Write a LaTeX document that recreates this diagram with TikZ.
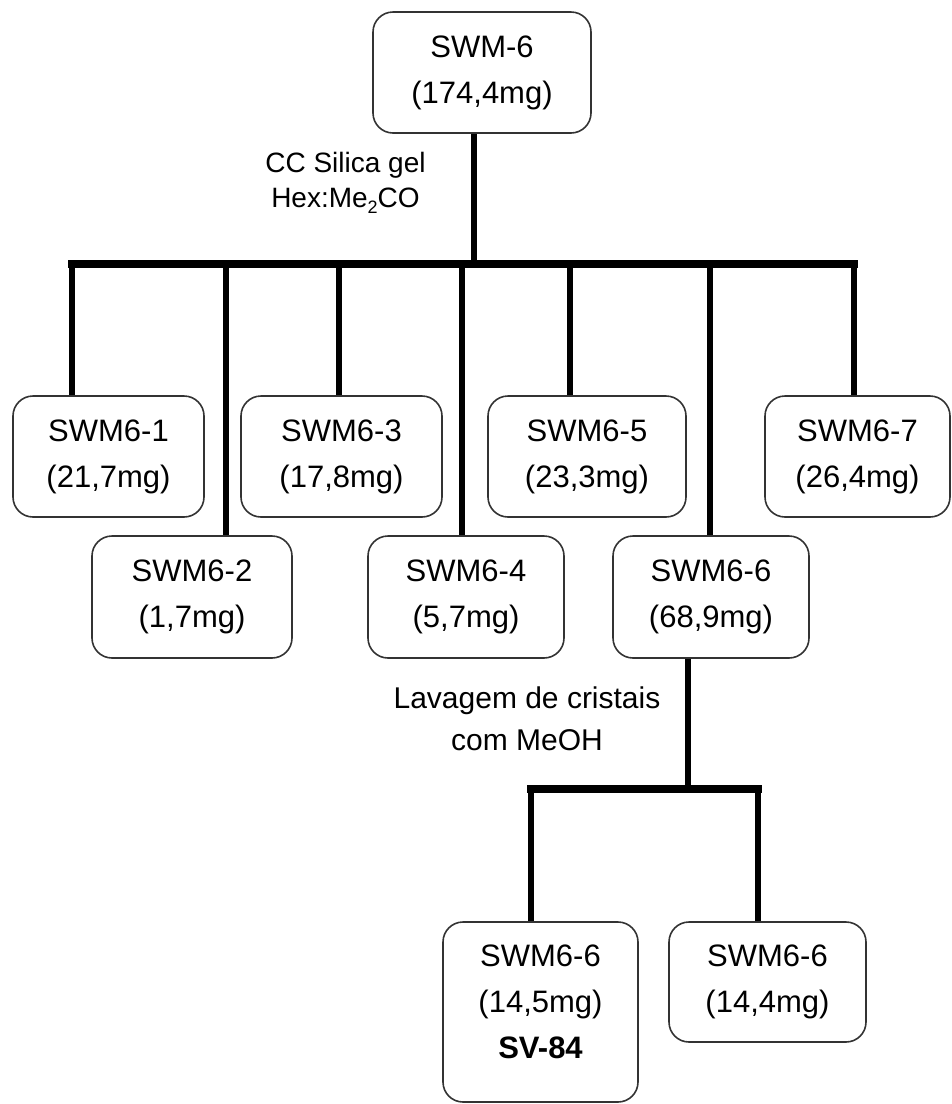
\documentclass[tikz,border=0pt]{standalone}
\usepackage{fontspec}
\setmainfont{Liberation Sans}
\begin{document}
\begin{tikzpicture}[x=1pt,y=-1pt,
  box/.style={draw=black!80, line width=1.6pt, rounded corners=20pt, fill=white,
    align=center, inner sep=0pt, font=\fontsize{31}{46}\selectfont},
  txt/.style={align=center, inner sep=0pt, font=\fontsize{31}{46}\selectfont},
  lbl/.style={align=center, inner sep=0pt},
  conn/.style={line width=6.5pt, black},
  barline/.style={line width=7.5pt, black, line cap=rect}]
\useasboundingbox[fill=white] (0,0) rectangle (952,1104);
% boxes
\node[box, minimum width=218pt, minimum height=121pt] (top) at (482,72.5) {SWM-6\\(174,4mg)};
\node[box, minimum width=191pt, minimum height=121pt] (s1) at (108.5,456.5) {SWM6-1\\(21,7mg)};
\node[box, minimum width=201pt, minimum height=121pt] (s3) at (341.5,456.5) {SWM6-3\\(17,8mg)};
\node[box, minimum width=198pt, minimum height=121pt] (s5) at (587,456.5) {SWM6-5\\(23,3mg)};
\node[box, minimum width=185pt, minimum height=121pt] (s7) at (857.5,456.5) {SWM6-7\\(26,4mg)};
\node[box, minimum width=200pt, minimum height=122pt] (s2) at (192,597) {SWM6-2\\(1,7mg)};
\node[box, minimum width=196pt, minimum height=122pt] (s4) at (466,597) {SWM6-4\\(5,7mg)};
\node[box, minimum width=196pt, minimum height=122pt] (s6) at (711,597) {SWM6-6\\(68,9mg)};
\node[box, minimum width=195pt, minimum height=180pt] (b1) at (540.5,1012) {};
\node[txt] (b1t) at (540.5,1002) {SWM6-6\\(14,5mg)\\\textbf{SV-84}};
\node[box, minimum width=197pt, minimum height=120pt] (b2) at (767.5,982) {SWM6-6\\(14,4mg)};
% labels
\node[lbl, font=\fontsize{28}{35}\selectfont] (l1) at (345.5,182.5)
  {CC Silica gel\\Hex:Me\raisebox{-0.22em}{\fontsize{18}{18}\selectfont 2}CO};
\node[lbl, font=\fontsize{30}{42}\selectfont] (l2) at (527,719)
  {Lavagem de cristais\\com MeOH};
% first level connectors
\coordinate (tb) at (474,264);
\coordinate (c1) at (72,264);
\coordinate (c2) at (226,264);
\coordinate (c3) at (339,264);
\coordinate (c4) at (462,264);
\coordinate (c5) at (570,264);
\coordinate (c6) at (710,264);
\coordinate (c7) at (854,264);
\draw[conn] (tb |- top.south) -- (tb);
\draw[barline] (c1) -- (c7);
\draw[conn] (c1) -- (c1 |- s1.north);
\draw[conn] (c2) -- (c2 |- s2.north);
\draw[conn] (c3) -- (c3 |- s3.north);
\draw[conn] (c4) -- (c4 |- s4.north);
\draw[conn] (c5) -- (c5 |- s5.north);
\draw[conn] (c6) -- (c6 |- s6.north);
\draw[conn] (c7) -- (c7 |- s7.north);
% second level connectors
\coordinate (d0) at (688,789);
\coordinate (d1) at (531,789);
\coordinate (d2) at (758,789);
\draw[conn] (d0 |- s6.south) -- (d0);
\draw[barline] (d1) -- (d2);
\draw[conn] (d1) -- (d1 |- b1.north);
\draw[conn] (d2) -- (d2 |- b2.north);
\end{tikzpicture}
\end{document}
